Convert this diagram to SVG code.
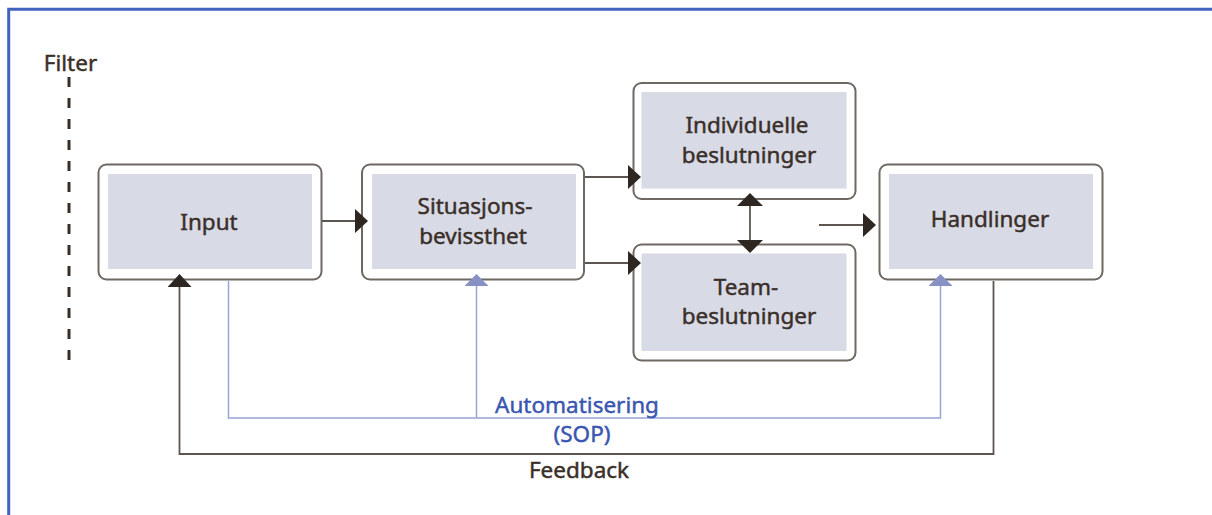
<svg xmlns="http://www.w3.org/2000/svg" width="1212" height="515" viewBox="0 0 1212 515">
<defs>
<style>
.outer{fill:#ffffff;stroke:#6f6862;stroke-width:2}
.inner{fill:#d8dae6}
.lbl{font-family:"Noto Sans","Liberation Sans",sans-serif;font-size:22.5px;fill:#3a2f28;stroke:#3a2f28;stroke-width:0.45;text-anchor:middle}
.blue{fill:#3a56b0;stroke:#3a56b0}
.dark{fill:none;stroke:#5c5550;stroke-width:1.8}
.lite{fill:none;stroke:#98a3d8;stroke-width:1.5}
</style>
<marker id="ah" viewBox="0 0 13 24" refX="12" refY="12" markerWidth="13" markerHeight="24" markerUnits="userSpaceOnUse" orient="auto">
<path d="M0,0 L13,12 L0,24 z" fill="#2e2620"/>
</marker>
<marker id="ahs" viewBox="0 0 13 26" refX="12" refY="13" markerWidth="13" markerHeight="26" markerUnits="userSpaceOnUse" orient="auto-start-reverse">
<path d="M0,0 L13,13 L0,26 z" fill="#2e2620"/>
</marker>
<marker id="ahb" viewBox="0 0 12 24" refX="11" refY="12" markerWidth="12" markerHeight="24" markerUnits="userSpaceOnUse" orient="auto">
<path d="M0,0 L12,12 L0,24 z" fill="#8891c4"/>
</marker>
</defs>
<rect width="1212" height="515" fill="#ffffff"/>
<g id="frame">
<path d="M8.7,515 V9.3 H1212" fill="none" stroke="#4262c0" stroke-width="3"/>
</g>
<g id="filter">
<text class="lbl" x="70.5" y="70.5">Filter</text>
<line x1="69" y1="77" x2="69" y2="364" stroke="#3a2f28" stroke-width="3" stroke-dasharray="10 11"/>
</g>
<g id="input">
<rect class="outer" x="98.5" y="164.5" width="223" height="115" rx="8"/>
<rect class="inner" x="108" y="174" width="204" height="95"/>
<text class="lbl" x="209" y="229.5">Input</text>
</g>
<g id="situasjon">
<rect class="outer" x="362" y="164.5" width="222" height="115" rx="8"/>
<rect class="inner" x="372" y="174" width="204" height="95"/>
<text class="lbl" x="475" y="214">Situasjons-</text>
<text class="lbl" x="473" y="244">bevissthet</text>
</g>
<g id="individuelle">
<rect class="outer" x="633.5" y="83" width="222" height="116" rx="8"/>
<rect class="inner" x="641.5" y="92" width="205" height="96.5"/>
<text class="lbl" x="747" y="133">Individuelle</text>
<text class="lbl" x="749" y="163">beslutninger</text>
</g>
<g id="team">
<rect class="outer" x="633.5" y="244.5" width="222" height="116" rx="8"/>
<rect class="inner" x="641.5" y="253.5" width="205" height="97.5"/>
<text class="lbl" x="746" y="295">Team-</text>
<text class="lbl" x="749" y="324">beslutninger</text>
</g>
<g id="handlinger">
<rect class="outer" x="879.5" y="164.5" width="223" height="115" rx="8"/>
<rect class="inner" x="889" y="174" width="204" height="95"/>
<text class="lbl" x="990" y="226.5">Handlinger</text>
</g>
<g id="connectors">
<line class="dark" x1="322" y1="221" x2="367" y2="221" marker-end="url(#ah)"/>
<line class="dark" x1="585" y1="177" x2="640" y2="177" marker-end="url(#ah)"/>
<line class="dark" x1="585" y1="263" x2="640" y2="263" marker-end="url(#ah)"/>
<line class="dark" x1="819" y1="225" x2="875" y2="225" marker-end="url(#ah)"/>
<line class="dark" x1="750" y1="194" x2="750" y2="252" marker-start="url(#ahs)" marker-end="url(#ahs)"/>
<path class="dark" d="M993.5,281 V454 H179.5 V275" marker-end="url(#ah)"/>
<path class="lite" d="M228.5,281 V418 H940.5 V275" marker-end="url(#ahb)"/>
<path class="lite" d="M476.5,418 V275" marker-end="url(#ahb)"/>
</g>
<g id="labels">
<text class="lbl blue" x="577" y="413">Automatisering</text>
<text class="lbl blue" x="582" y="441.5">(SOP)</text>
<text class="lbl" x="579" y="478">Feedback</text>
</g>
</svg>
